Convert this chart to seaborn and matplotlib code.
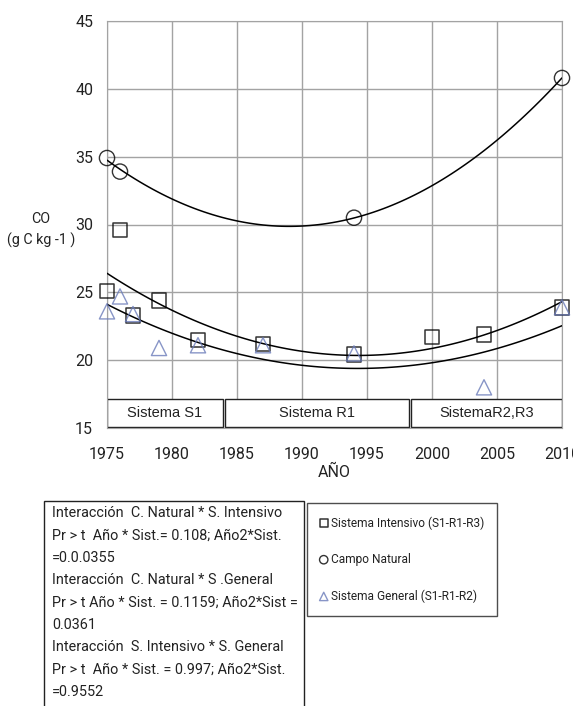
import matplotlib
matplotlib.use("Agg")
import matplotlib.pyplot as plt
from matplotlib.patches import Rectangle
import pandas as pd
import seaborn as sns

# datos
anio_intensivo = [1975, 1976, 1977, 1979, 1982, 1987, 1994, 2000, 2004, 2010]
co_intensivo = [25.1, 29.6, 23.3, 24.4, 21.5, 21.2, 20.4, 21.7, 21.9, 23.9]

anio_natural = [1975, 1976, 1994, 2010]
co_natural = [34.9, 33.9, 30.5, 40.8]

anio_general = [1975, 1976, 1977, 1979, 1982, 1987, 1994, 2004, 2010]
co_general = [23.6, 24.7, 23.4, 20.9, 21.1, 21.1, 20.5, 18.0, 23.9]

sistemas = ["Sistema S1", "Sistema R1", "SistemaR2,R3"]
sistemas_desde = [1975.0, 1984.1, 1998.4]
sistemas_hasta = [1983.9, 1998.2, 2010.0]

texto_interaccion = [
    "Interacción  C. Natural * S. Intensivo",
    "Pr > t  Año * Sist.= 0.108; Año2*Sist.",
    "=0.0.0355",
    "Interacción  C. Natural * S .General",
    "Pr > t Año * Sist. = 0.1159; Año2*Sist =",
    "0.0361",
    "Interacción  S. Intensivo * S. General",
    "Pr > t  Año * Sist. = 0.997; Año2*Sist.",
    "=0.9552",
]

sns.set_style("white")
plt.rcParams["font.family"] = ["Roboto", "DejaVu Sans"]

W, H = 573, 706
fig = plt.figure(figsize=(W / 100, H / 100), dpi=100)
ax = fig.add_axes([107 / W, 1 - 428 / H, 455 / W, 407 / H])

gris = "#a3a3a3"
azul = "#6a7bb9"
negro = "#222222"

df_int = pd.DataFrame({"anio": anio_intensivo, "co": co_intensivo})
df_nat = pd.DataFrame({"anio": anio_natural, "co": co_natural})
df_gen = pd.DataFrame({"anio": anio_general, "co": co_general})

# ajuste cuadratico (linea de tendencia) para cada sistema
linea = dict(color="black", lw=1.1, zorder=3)
sns.regplot(data=df_int, x="anio", y="co", order=2, ci=None, ax=ax, marker="s",
            label="Sistema Intensivo (S1-R1-R3)",
            scatter_kws=dict(s=110, facecolors="none", edgecolors="black", linewidths=1.1,
                             zorder=4, clip_on=False),
            line_kws=linea)
sns.regplot(data=df_nat, x="anio", y="co", order=2, ci=None, ax=ax, marker="o",
            label="Campo Natural",
            scatter_kws=dict(s=120, facecolors="none", edgecolors="black", linewidths=1.0,
                             zorder=4, clip_on=False),
            line_kws=linea)
sns.regplot(data=df_gen, x="anio", y="co", order=2, ci=None, ax=ax, marker="^",
            label="Sistema General (S1-R1-R2)",
            scatter_kws=dict(s=120, facecolors="none", edgecolors=azul, linewidths=1.0,
                             zorder=4, clip_on=False),
            line_kws=linea)

# cajas de sistemas
for nombre, x0, x1 in zip(sistemas, sistemas_desde, sistemas_hasta):
    ax.add_patch(Rectangle((x0, 15.1), x1 - x0, 2.05, facecolor="white",
                           edgecolor=negro, lw=1.0, zorder=2.5))
    ax.text((x0 + x1) / 2, 16.12, nombre, ha="center", va="center", fontsize=10.5,
            family=["Liberation Sans", "DejaVu Sans"], color=negro, zorder=3)

ax.set_xlim(1975, 2010)
ax.set_ylim(15, 45)
ax.set_xticks(range(1975, 2011, 5))
ax.set_yticks(range(15, 46, 5))
ax.grid(True, color=gris, lw=1)
ax.set_axisbelow(True)
for sp in ax.spines.values():
    sp.set_visible(True)
    sp.set_color(gris)
ax.tick_params(axis="both", direction="out", length=5, color=gris, width=1,
               labelsize=11.5, labelcolor=negro, pad=5)
ax.tick_params(axis="x", pad=9)
ax.set_xlabel("AÑO", fontsize=11.5, color=negro, labelpad=2)
ax.set_ylabel("")

fig.text(41 / W, 1 - 230 / H, "CO\n(g C kg -1 )", ha="center", va="center",
         fontsize=10.3, color=negro, multialignment="center", linespacing=1.5)

# caja de interacciones
fig.add_artist(Rectangle((44 / W, -0.05), (304 - 44) / W, 0.05 + 1 - 501 / H,
                         transform=fig.transFigure, facecolor="white",
                         edgecolor=negro, lw=1.0))
for i, linea_txt in enumerate(texto_interaccion):
    fig.text(52 / W, 1 - (513 + i * 22.4) / H, linea_txt, ha="left", va="center",
             fontsize=10.4, color=negro)

leg = fig.legend(loc="upper left", bbox_to_anchor=(307 / W, 1 - 503 / H),
                 frameon=True, fancybox=False, edgecolor=negro, fontsize=8.6,
                 markerscale=0.55, handlelength=0.6, handletextpad=0.3,
                 labelspacing=1.95, borderpad=1.1, borderaxespad=0)
leg.get_frame().set_linewidth(1.0)
for t in leg.get_texts():
    t.set_color(negro)

fig.savefig("out.png", dpi=100)
